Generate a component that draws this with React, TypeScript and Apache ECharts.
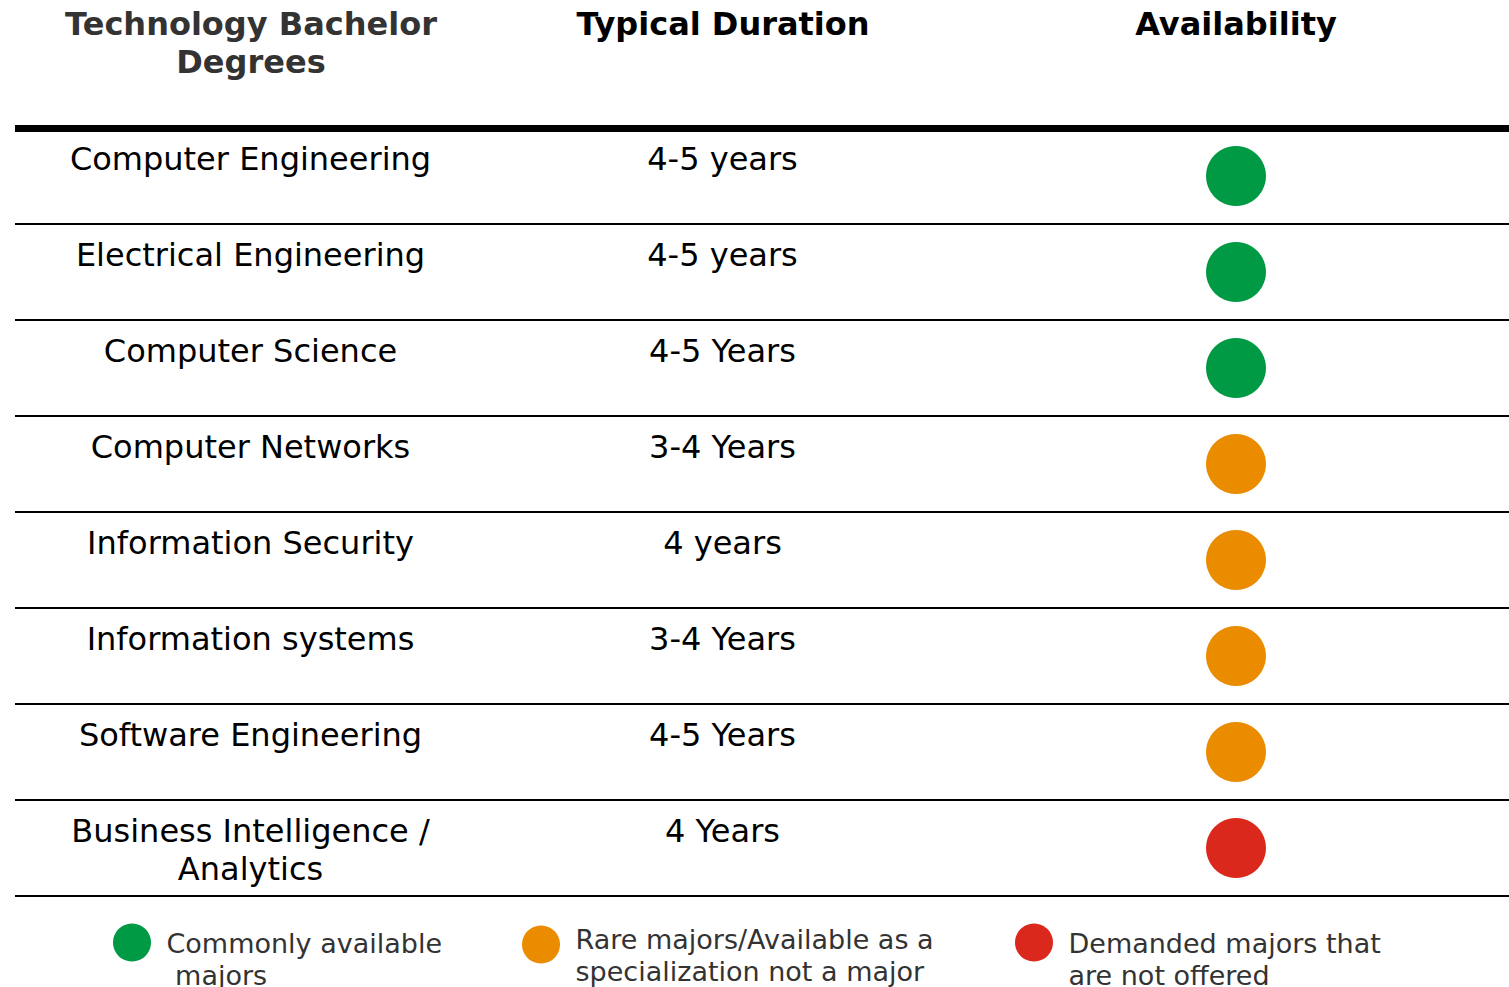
import React, { useEffect, useRef } from 'react';
import * as echarts from 'echarts';

// ---- data ----
const HEADERS = ['Technology Bachelor\nDegrees', 'Typical Duration', 'Availability'];
const DEGREES = [
  'Computer Engineering',
  'Electrical Engineering',
  'Computer Science',
  'Computer Networks',
  'Information Security',
  'Information systems',
  'Software Engineering',
  'Business Intelligence /\nAnalytics',
];
const DURATIONS = ['4-5 years', '4-5 years', '4-5 Years', '3-4 Years', '4 years', '3-4 Years', '4-5 Years', '4 Years'];
// 0 = commonly available, 1 = rare / specialization, 2 = demanded but not offered
const AVAILABILITY = [0, 0, 0, 1, 1, 1, 1, 2];
const STATUS_LABELS = [
  'Commonly available\n majors',
  'Rare majors/Available as a\nspecialization not a major',
  'Demanded majors that\nare not offered',
];

// ---- styling / layout ----
const STATUS_COLORS = ['#009A44', '#EB8C00', '#DA291C'];
const HEADER_COLORS = ['#333333', '#000000', '#000000'];
const COL_X = [251, 723, 1236];
const LEGEND_LEFT = [113, 522, 1015];
const LEGEND_TOP = [894, 902, 894];
const LEGEND_SPACER = [33, 21, 33];
const FONT = 'Verdana, "DejaVu Sans", sans-serif';

function textSeries(col: number, texts: string[]) {
  return {
    type: 'scatter',
    silent: true,
    symbol: 'circle',
    symbolSize: 1,
    itemStyle: { color: 'rgba(0,0,0,0)', opacity: 1 },
    label: {
      show: true,
      position: [0, -36],
      align: 'center',
      verticalAlign: 'top',
      formatter: (p: any) => texts[p.dataIndex],
      fontFamily: FONT,
      fontSize: 32,
      lineHeight: 38,
      color: '#000000',
      opacity: 1,
    },
    data: texts.map((_, i) => [COL_X[col], i]),
    z: 3,
  };
}

export default function App() {
  const ref = useRef<HTMLDivElement>(null);
  useEffect(() => {
    document.body.style.margin = '0';
    const chart = echarts.init(ref.current!, null, { renderer: 'svg' });
    const statusSeries = STATUS_LABELS.map((name, k) => ({
      type: 'scatter',
      name,
      symbol: 'circle',
      symbolSize: 60,
      itemStyle: { color: STATUS_COLORS[k], opacity: 1 },
      data: AVAILABILITY.map((s, i) => (s === k ? [COL_X[2], i] : null)).filter((d) => d !== null),
      z: 4,
    }));
    chart.setOption({
      animation: false,
      backgroundColor: '#ffffff',
      grid: { left: 15, right: 0, top: 128, height: 768 },
      xAxis: {
        type: 'value',
        min: 15,
        max: 1509,
        position: 'top',
        axisLine: { show: true, onZero: false, lineStyle: { color: '#000000', width: 7, cap: 'butt' } },
        axisTick: { show: false },
        axisLabel: { show: false },
        splitLine: { show: false },
        z: 5,
      },
      yAxis: {
        type: 'category',
        data: DEGREES,
        inverse: true,
        axisLine: { show: false },
        axisTick: { show: false },
        axisLabel: { show: false },
        splitLine: { show: true, lineStyle: { color: '#000000', width: 2, cap: 'butt' } },
      },
      legend: STATUS_LABELS.map((name, k) => ({
        data: [name],
        left: LEGEND_LEFT[k],
        top: LEGEND_TOP[k],
        padding: 0,
        icon: 'circle',
        itemWidth: 41,
        itemHeight: 38,
        symbolKeepAspect: false,
        selectedMode: false,
        formatter: (n: string) =>
          '{pad| }\n' + n.split('\n').map((line) => '{t|' + line + '}').join('\n'),
        textStyle: {
          fontFamily: FONT,
          fontSize: 27,
          color: '#333333',
          rich: {
            pad: { fontSize: 1, lineHeight: LEGEND_SPACER[k], height: LEGEND_SPACER[k] },
            t: {
              fontFamily: FONT,
              fontSize: 27,
              lineHeight: 32,
              color: '#333333',
              padding: [0, 0, 0, 9],
            },
          },
        },
      })),
      graphic: HEADERS.map((h, k) => ({
        type: 'text',
        x: COL_X[k],
        y: 5,
        style: {
          text: h,
          fill: HEADER_COLORS[k],
          fontFamily: FONT,
          fontWeight: 'bold',
          fontSize: 32,
          lineHeight: 38,
          align: 'center',
          verticalAlign: 'top',
        },
      })),
      series: [textSeries(0, DEGREES), textSeries(1, DURATIONS), ...statusSeries],
    });
    return () => chart.dispose();
  }, []);
  return <div ref={ref} style={{ width: 1509, height: 987 }} />;
}
